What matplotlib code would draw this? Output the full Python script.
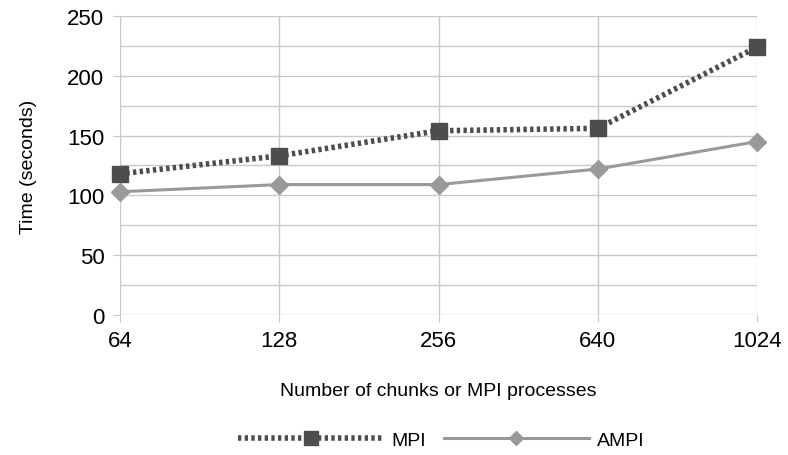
import matplotlib
matplotlib.use('Agg')
import matplotlib.pyplot as plt

categories = ['64', '128', '256', '640', '1024']
mpi = [118, 133, 154, 156, 224]
ampi = [103, 109, 109, 122, 145]

plt.rcParams['font.family'] = ['Liberation Sans', 'DejaVu Sans']

fig = plt.figure(figsize=(7.88, 4.56), dpi=100)
ax = fig.add_axes([0.152, 0.307, 0.809, 0.656])

x = list(range(len(categories)))
ax.plot(x, mpi, color='#4d4d4d', linestyle=(0, (0.6, 0.6)), linewidth=4,
        marker='s', markersize=12, label='MPI', zorder=3, clip_on=False)
ax.plot(x, ampi, color='#999999', linestyle='-', linewidth=2.2,
        marker='D', markersize=9, label='AMPI', zorder=3, clip_on=False)

ax.set_xlim(0, len(categories) - 1)
ax.set_ylim(0, 250)
ax.set_xticks(x)
ax.set_xticklabels(categories)
ax.set_yticks(range(0, 251, 50))
ax.set_yticks(range(0, 251, 25), minor=True)
ax.grid(True, which='both', color='#c8c8c8', linewidth=1)
ax.set_axisbelow(True)
for s in ax.spines.values():
    s.set_visible(False)
ax.tick_params(axis='both', which='major', labelsize=16, color='#c8c8c8', length=5, pad=6)
ax.tick_params(axis='y', which='minor', length=0)

ax.set_ylabel('Time (seconds)', fontsize=14, labelpad=22)
ax.set_xlabel('Number of chunks or MPI processes', fontsize=14, labelpad=22)

fig.legend(loc='lower center', bbox_to_anchor=(0.56, -0.025), ncol=2, frameon=False,
           fontsize=14, handlelength=7.5, columnspacing=0.9, markerscale=0.8,
           handletextpad=0.4)

fig.savefig('out.png', dpi=100)
